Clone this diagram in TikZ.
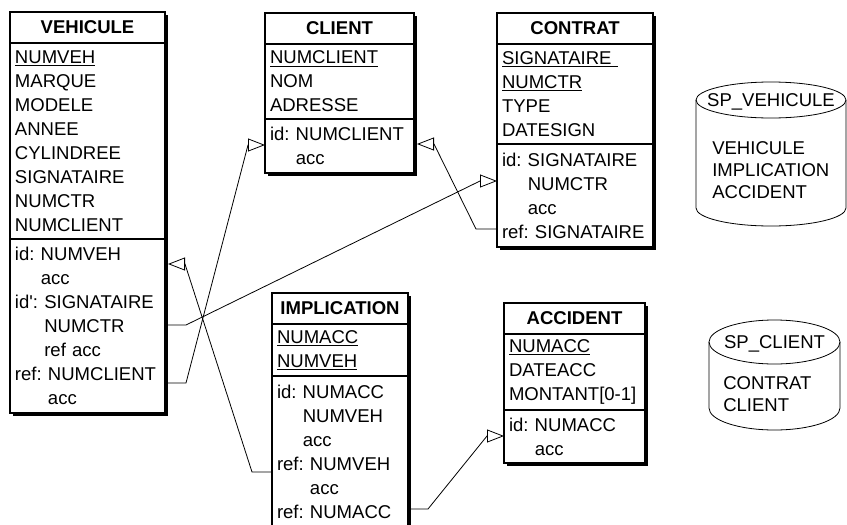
\documentclass[tikz,border=0pt]{standalone}
\usepackage{fontspec}
\setmainfont{Liberation Sans}
\usetikzlibrary{positioning,arrows.meta,shadows}

\begin{document}
\begin{tikzpicture}[
    x=0.75pt,
    y=-0.75pt,
    every node/.style={font=\fontsize{13.9}{18}\selectfont\frenchspacing},
    ombre/.style={
        drop shadow={shadow xshift=2.25pt,shadow yshift=-2.25pt,fill=black,opacity=1}
    },
    entete/.style={
        draw,
        line width=0.8pt,
        fill=white,
        outer sep=0pt,
        inner xsep=3.75pt,
        inner ysep=0pt,
        minimum height=23.25pt,
        align=center,
        anchor=north west,
        font=\fontsize{13.9}{18}\selectfont\bfseries,
        ombre
    },
    partie/.style={
        draw,
        line width=0.8pt,
        fill=white,
        outer sep=0pt,
        inner xsep=3.75pt,
        inner ysep=0pt,
        align=left,
        ombre
    },
    lien/.style={
        -{Triangle[open,length=12.75pt,width=9.75pt]},
        line width=0.6pt
    },
    cylindre/.style={line width=0.6pt},
    liste/.style={font=\fontsize{13.9}{16.5}\selectfont, align=left, anchor=west, inner sep=0pt}
]
    \useasboundingbox (0,0) rectangle (847,525);

    \node[entete, text width=108.75pt] (vehH) at (10,12) {VEHICULE};
    \node[partie, text width=108.75pt, minimum height=147pt, below=0pt of vehH] (vehA)
        {\underline{NUMVEH}\\MARQUE\\MODELE\\ANNEE\\CYLINDREE\\SIGNATAIRE\\NUMCTR\\NUMCLIENT};
    \node[partie, text width=108.75pt, minimum height=130.5pt, below=0pt of vehA] (vehC)
        {id: NUMVEH\\\hphantom{id: }acc\\
        id\textquotesingle: SIGNATAIRE\\\hphantom{id\textquotesingle: }NUMCTR\\
        \hphantom{id\textquotesingle: }ref acc\\
        ref: NUMCLIENT\\\hphantom{ref: }acc};

    \node[entete, text width=104.25pt] (cliH) at (265,13) {CLIENT};
    \node[partie, text width=104.25pt, minimum height=56.25pt, below=0pt of cliH] (cliA)
        {\underline{NUMCLIENT}\\NOM\\ADRESSE};
    \node[partie, text width=104.25pt, minimum height=40.5pt, below=0pt of cliA] (cliC)
        {id: NUMCLIENT\\\hphantom{id: }acc};

    \node[entete, text width=109.5pt] (conH) at (497,13) {CONTRAT};
    \node[partie, text width=109.5pt, minimum height=75pt, below=0pt of conH] (conA)
        {\underline{SIGNATAIRE\ }\\\underline{NUMCTR}\\TYPE\\DATESIGN};
    \node[partie, text width=109.5pt, minimum height=77.25pt, below=0pt of conA] (conC)
        {id: SIGNATAIRE\\\hphantom{id: }NUMCTR\\\hphantom{id: }acc\\ref: SIGNATAIRE};

    \node[entete, text width=94.5pt] (impH) at (272,293) {IMPLICATION};
    \node[partie, text width=94.5pt, minimum height=39pt, below=0pt of impH] (impA)
        {\underline{NUMACC}\\\underline{NUMVEH}};
    \node[partie, text width=94.5pt, minimum height=113.25pt, below=0pt of impA] (impC)
        {id: NUMACC\\\hphantom{id: }NUMVEH\\\hphantom{id: }acc\\
        ref: NUMVEH\\\hphantom{ref: }acc\\ref: NUMACC};

    \node[entete, text width=98.25pt] (accH) at (504,303) {ACCIDENT};
    \node[partie, text width=98.25pt, minimum height=57pt, below=0pt of accH] (accA)
        {\underline{NUMACC}\\DATEACC\\MONTANT[0-1]};
    \node[partie, text width=98.25pt, minimum height=39.75pt, below=0pt of accA] (accC)
        {id: NUMACC\\\hphantom{id: }acc};

    \draw[lien] (vehC.east |- 0,383) -- (186,383) -- (248,145) -- (cliC.west |- 0,145);
    \draw[lien] (vehC.east |- 0,325) -- (186,325) -- (480,181) -- (conC.west |- 0,181);
    \draw[lien] (impC.west |- 0,472) -- (252,472) -- (185,264)
        -- ([xshift=2.25pt]vehC.east |- 0,264);
    \draw[lien] (conC.west |- 0,229) -- (476,229) -- (434,144)
        -- ([xshift=2.25pt]cliC.east |- 0,144);
    \draw[lien] (impC.east |- 0,509) -- (428,509) -- (487,436) -- (accC.west |- 0,436);

    \draw[cylindre] (771,100) ellipse [x radius=75, y radius=18];
    \draw[cylindre] (696,100) -- (696,208)
        arc [start angle=180, end angle=0, x radius=75, y radius=18] -- (846,100);
    \node (spveh) at (771,102) {SP\_VEHICULE};
    \node[liste] (spvehL) at (712,170) {VEHICULE\\IMPLICATION\\ACCIDENT};

    \draw[cylindre] (774.5,342) ellipse [x radius=65.5, y radius=22];
    \draw[cylindre] (709,342) -- (709,408)
        arc [start angle=180, end angle=0, x radius=65.5, y radius=22] -- (840,342);
    \node (spcli) at (774.5,344) {SP\_CLIENT};
    \node[liste] (spcliL) at (723,394) {CONTRAT\\CLIENT};
\end{tikzpicture}
\end{document}
